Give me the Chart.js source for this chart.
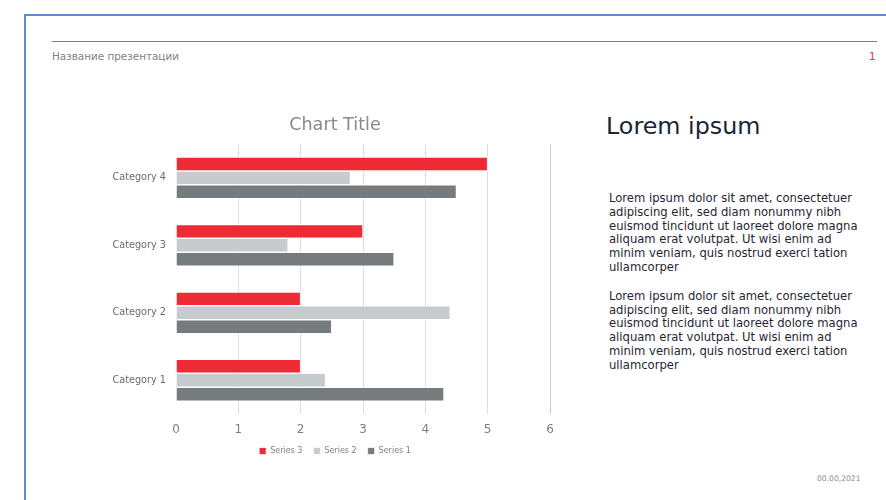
<!DOCTYPE html>
<html lang="ru">
<head>
<meta charset="utf-8">
<title>Chart</title>
<script src="https://cdn.jsdelivr.net/npm/chart.js@4/dist/chart.umd.min.js"></script>
<style>
    html, body {
        margin: 0;
        padding: 0;
        width: 886px;
        height: 500px;
        overflow: hidden;
        background: #fff;
        font-family: "DejaVu Sans", Verdana, sans-serif;
    }
    .frame {
        position: absolute;
        left: 24px;
        top: 14px;
        width: 900px;
        height: 520px;
        border-top: 2px solid #5b8ccf;
        border-left: 2px solid #5b8ccf;
    }
    .rule {
        position: absolute;
        left: 52px;
        top: 41px;
        width: 825px;
        height: 0;
        border-top: 1px solid #808080;
    }
    .doc-title {
        position: absolute;
        left: 52px;
        top: 50px;
        font-size: 10.4px;
        color: #7f7f7f;
    }
    .page-num {
        position: absolute;
        left: 869px;
        top: 50px;
        font-size: 10.5px;
        color: #e8323c;
    }
    .chart-box {
        position: absolute;
        left: 90px;
        top: 100px;
        width: 490px;
        height: 360px;
    }
    .heading {
        position: absolute;
        left: 606px;
        top: 112px;
        font-size: 23.8px;
        color: #1b2434;
        white-space: nowrap;
    }
    .body-text {
        position: absolute;
        left: 609px;
        top: 192px;
        font-size: 11.6px;
        line-height: 13.8px;
        color: #1f2633;
        white-space: nowrap;
    }
    .body-text p {
        margin: 0 0 15px 0;
    }
    .date {
        position: absolute;
        left: 817px;
        top: 474px;
        font-size: 7.6px;
        color: #8c8c8c;
    }
</style>
</head>
<body>
<div class="frame"></div>
<div class="rule"></div>
<div class="doc-title">Название презентации</div>
<div class="page-num">1</div>

<div class="chart-box"><canvas id="barChart"></canvas></div>

<div class="heading">Lorem ipsum</div>
<div class="body-text">
    <p>Lorem ipsum dolor sit amet, consectetuer<br>adipiscing elit, sed diam nonummy nibh<br>euismod tincidunt ut laoreet dolore magna<br>aliquam erat volutpat. Ut wisi enim ad<br>minim veniam, quis nostrud exerci tation<br>ullamcorper</p>
    <p>Lorem ipsum dolor sit amet, consectetuer<br>adipiscing elit, sed diam nonummy nibh<br>euismod tincidunt ut laoreet dolore magna<br>aliquam erat volutpat. Ut wisi enim ad<br>minim veniam, quis nostrud exerci tation<br>ullamcorper</p>
</div>
<div class="date">00.00,2021</div>

<script>
const categories = ['Category 1', 'Category 2', 'Category 3', 'Category 4'];
const series1 = [4.3, 2.5, 3.5, 4.5];
const series2 = [2.4, 4.4, 1.8, 2.8];
const series3 = [2, 2, 3, 5];
const xTicks = [0, 1, 2, 3, 4, 5, 6];

const RED = '#ee2a35';
const LIGHT = '#c6cbce';
const DARK = '#767b7e';

function bar(label, data, color) {
    return {
        label: label,
        data: data,
        backgroundColor: color,
        borderColor: '#ffffff',
        borderWidth: 0.75,
        categoryPercentage: 0.62,
        barPercentage: 1
    };
}

// title and legend are centred on the whole chart block, not only on the
// part left of the right padding
const centreBlocks = {
    id: 'centreBlocks',
    afterLayout(chart) {
        [chart.titleBlock, chart.legend].forEach(box => {
            if (box) box.left += 30;
        });
    }
};

window.onload = () => {
    new Chart(document.getElementById('barChart'), {
        type: 'bar',
        data: {
            labels: categories,
            datasets: [
                bar('Series 3', series3, RED),
                bar('Series 2', series2, LIGHT),
                bar('Series 1', series1, DARK)
            ]
        },
        plugins: [centreBlocks],
        options: {
            indexAxis: 'y',
            responsive: true,
            maintainAspectRatio: false,
            animation: false,
            layout: {
                padding: { left: 0, right: 30, top: 0, bottom: 0 }
            },
            scales: {
                x: {
                    min: xTicks[0],
                    max: xTicks[xTicks.length - 1],
                    afterBuildTicks: scale => {
                        scale.ticks = xTicks.map(v => ({ value: v }));
                    },
                    afterFit: scale => { scale.height = 22; },
                    border: { display: false },
                    grid: {
                        drawTicks: false,
                        color: ctx => ctx.tick && ctx.tick.value === 0 ? 'rgba(0,0,0,0)'
                            : (ctx.tick && ctx.tick.value === 6 ? '#c8cbcd' : '#dcdfe1'),
                        lineWidth: 1
                    },
                    ticks: {
                        padding: 9,
                        color: '#7f7f7f',
                        font: { family: 'DejaVu Sans', size: 12 }
                    }
                },
                y: {
                    reverse: true,
                    afterFit: scale => { scale.width = 86; },
                    border: { display: false },
                    grid: { display: false, drawTicks: false },
                    ticks: {
                        padding: 10,
                        color: '#6b6b6b',
                        font: { family: 'DejaVu Sans', size: 9.7 }
                    }
                }
            },
            plugins: {
                title: {
                    display: true,
                    text: 'Chart Title',
                    color: '#8a8a8a',
                    padding: { top: 15, bottom: 8 },
                    font: { family: 'DejaVu Sans', size: 17.6, weight: 'normal' }
                },
                legend: {
                    position: 'bottom',
                    maxHeight: 24,
                    labels: {
                        boxWidth: 7,
                        boxHeight: 7,
                        padding: 11,
                        color: '#7f7f7f',
                        font: { family: 'DejaVu Sans', size: 8 }
                    }
                },
                tooltip: { enabled: false }
            }
        }
    });
};
</script>
</body>
</html>
